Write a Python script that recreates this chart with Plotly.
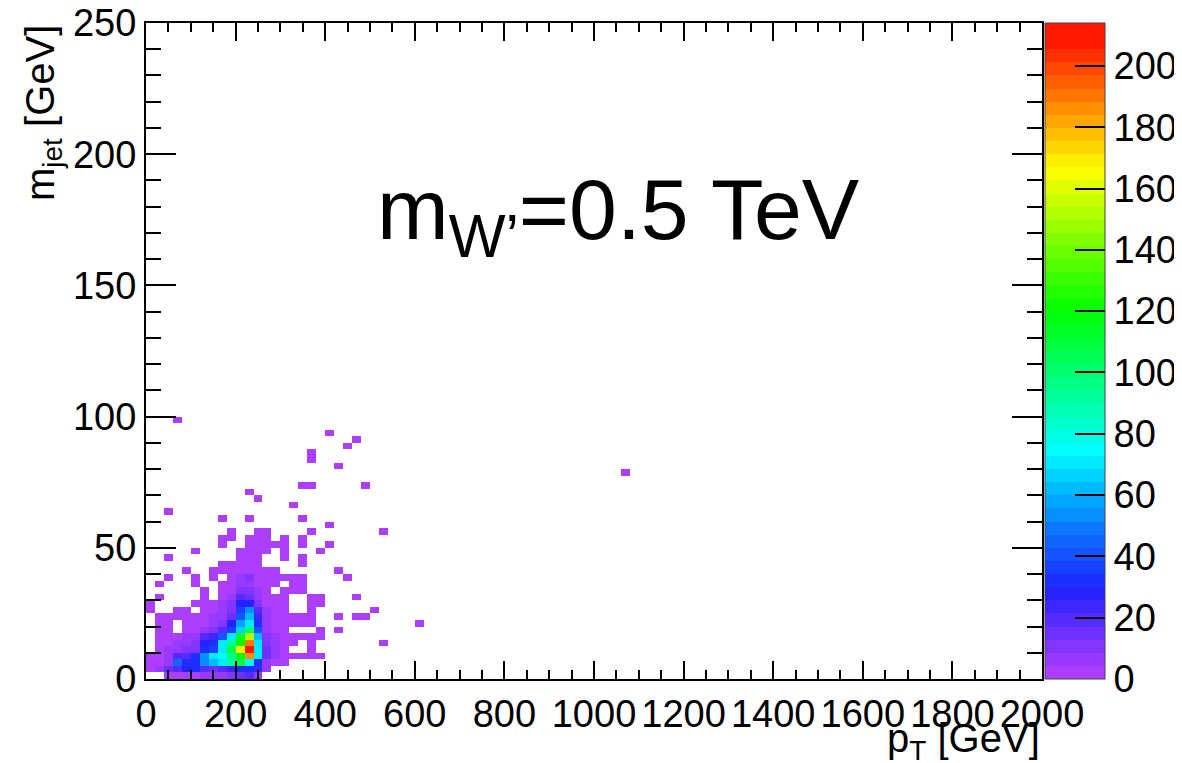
import colorsys
import plotly.graph_objects as go

# ---------------- data ----------------
# 2D histogram: 100 bins in pT (0-2000 GeV, 20 GeV wide), 100 bins in m_jet (0-250 GeV, 2.5 GeV wide)
PT_BINS, PT_MAX = 100, 2000.0
MJ_BINS, MJ_MAX = 100, 250.0
Z_MAX = 214.0

# dense core: rows are m_jet bins 0..22, columns are pT bins 0..31
core_counts = [
    [0, 0, 3, 3, 4, 4, 5, 6, 8, 10, 16, 18, 5, 0, 0, 0, 0, 0, 0, 0, 0, 0, 0, 0, 0, 0, 0, 0, 0, 0, 0, 0],
    [3, 8, 14, 20, 28, 30, 18, 16, 20, 25, 30, 30, 22, 5, 0, 0, 0, 0, 0, 0, 0, 0, 0, 0, 0, 0, 0, 0, 0, 0, 0, 0],
    [2, 4, 6, 45, 30, 32, 55, 62, 72, 90, 110, 75, 30, 6, 3, 2, 0, 0, 0, 0, 0, 0, 0, 0, 0, 0, 0, 0, 0, 0, 0, 0],
    [3, 4, 6, 18, 20, 30, 55, 70, 75, 95, 118, 188, 70, 14, 5, 3, 2, 2, 2, 1, 0, 0, 0, 0, 0, 0, 0, 0, 0, 0, 0, 0],
    [0, 3, 5, 8, 10, 12, 32, 35, 72, 110, 168, 212, 72, 14, 6, 3, 0, 0, 2, 0, 0, 0, 0, 0, 0, 0, 0, 0, 0, 0, 0, 0],
    [0, 3, 4, 6, 8, 10, 28, 32, 70, 92, 122, 192, 70, 12, 6, 3, 2, 0, 2, 0, 0, 0, 0, 0, 0, 0, 1, 0, 0, 0, 0, 0],
    [0, 2, 3, 4, 5, 8, 18, 25, 42, 72, 112, 150, 62, 10, 5, 3, 2, 2, 2, 2, 0, 0, 0, 0, 0, 0, 0, 0, 0, 0, 0, 0],
    [0, 2, 2, 0, 3, 4, 6, 12, 20, 35, 68, 100, 40, 8, 4, 2, 0, 0, 0, 1, 0, 1, 0, 0, 0, 0, 0, 0, 0, 0, 0, 0],
    [0, 2, 2, 0, 3, 3, 4, 5, 10, 26, 58, 72, 32, 6, 3, 2, 2, 2, 1, 0, 0, 0, 0, 0, 0, 0, 0, 0, 0, 0, 1, 0],
    [0, 2, 2, 2, 3, 3, 4, 5, 8, 14, 40, 62, 22, 6, 3, 2, 2, 2, 1, 0, 0, 1, 0, 1, 1, 0, 0, 0, 0, 0, 0, 0],
    [2, 0, 0, 2, 2, 0, 3, 4, 6, 12, 35, 52, 18, 5, 3, 2, 0, 0, 1, 0, 0, 0, 0, 0, 0, 1, 0, 0, 0, 0, 0, 0],
    [2, 0, 0, 0, 0, 2, 3, 4, 5, 10, 28, 28, 12, 4, 2, 2, 0, 0, 1, 1, 0, 0, 0, 0, 0, 0, 0, 0, 0, 0, 0, 0],
    [0, 2, 0, 0, 0, 0, 2, 0, 3, 5, 18, 16, 8, 3, 2, 2, 0, 0, 1, 1, 0, 0, 0, 1, 0, 0, 0, 0, 0, 0, 0, 0],
    [0, 0, 0, 0, 0, 0, 2, 0, 3, 4, 12, 10, 5, 2, 0, 2, 1, 1, 0, 0, 0, 0, 0, 0, 0, 0, 0, 0, 0, 0, 0, 0],
    [0, 2, 0, 0, 0, 2, 0, 0, 2, 3, 5, 5, 4, 2, 2, 0, 1, 1, 0, 0, 0, 0, 0, 0, 0, 0, 0, 0, 0, 0, 0, 0],
    [0, 0, 1, 0, 0, 2, 0, 2, 0, 3, 8, 10, 4, 3, 2, 2, 1, 1, 0, 0, 0, 0, 1, 0, 0, 0, 0, 0, 0, 0, 0, 0],
    [0, 0, 0, 0, 1, 0, 0, 2, 2, 2, 3, 3, 2, 2, 1, 0, 0, 0, 0, 0, 0, 1, 0, 0, 0, 0, 0, 0, 0, 0, 0, 0],
    [0, 0, 0, 0, 0, 0, 0, 0, 2, 2, 2, 2, 2, 0, 0, 0, 0, 1, 0, 0, 0, 0, 0, 0, 0, 0, 0, 0, 0, 0, 0, 0],
    [0, 0, 1, 0, 0, 0, 0, 0, 0, 0, 2, 2, 2, 0, 0, 1, 0, 1, 0, 0, 0, 0, 0, 0, 0, 0, 0, 0, 0, 0, 0, 0],
    [0, 0, 0, 0, 0, 1, 0, 0, 0, 0, 2, 2, 1, 1, 0, 1, 0, 0, 0, 1, 0, 0, 0, 0, 0, 0, 0, 0, 0, 0, 0, 0],
    [0, 0, 0, 0, 0, 0, 0, 0, 1, 0, 0, 2, 1, 1, 1, 1, 0, 1, 0, 0, 1, 0, 0, 0, 0, 0, 0, 0, 0, 0, 0, 0],
    [0, 0, 0, 0, 0, 0, 0, 0, 1, 1, 0, 1, 1, 1, 0, 1, 0, 1, 0, 0, 0, 0, 0, 0, 0, 0, 0, 0, 0, 0, 0, 0],
    [0, 0, 0, 0, 0, 0, 0, 0, 0, 1, 0, 0, 1, 1, 0, 0, 0, 0, 1, 0, 0, 0, 0, 0, 0, 0, 1, 0, 0, 0, 0, 0],
]

# sparse single entries above the core (pT bin index, m_jet bin index, count)
sparse_pt_bin   = [20, 8, 11, 17, 2, 16, 12, 11, 17, 18, 24, 53, 21, 18, 18, 22, 23, 20, 3]
sparse_mjet_bin = [23, 24, 24, 24, 25, 26, 27, 28, 29, 29, 29, 31, 32, 33, 34, 35, 36, 37, 39]
sparse_count    = [1, 1, 1, 1, 1, 1, 1, 1, 1, 1, 1, 1, 1, 1, 1, 1, 1, 1, 1]

x_ticks = list(range(0, 2001, 200))
y_ticks = list(range(0, 251, 50))
z_ticks = list(range(0, 201, 20))

# ---------------- build histogram ----------------
z = [[None] * PT_BINS for _ in range(MJ_BINS)]
for j, row in enumerate(core_counts):
    for i, v in enumerate(row):
        if v:
            z[j][i] = v
for i, j, v in zip(sparse_pt_bin, sparse_mjet_bin, sparse_count):
    z[j][i] = v

pt_w = PT_MAX / PT_BINS
mj_w = MJ_MAX / MJ_BINS
x_centers = [(i + 0.5) * pt_w for i in range(PT_BINS)]
y_centers = [(j + 0.5) * mj_w for j in range(MJ_BINS)]

# ROOT "pretty" palette: 50 colours, hue 280 -> ~0
def root_color(k):
    hue = max(5.6, 280.0 - (k + 1) * 5.6)
    light = 0.5 + 0.12 * max(0.0, (hue - 200.0) / 74.0)
    r, g, b = colorsys.hls_to_rgb(hue / 360.0, light, 1.0)
    return f"rgb({round(r*255)},{round(g*255)},{round(b*255)})"

NCOL = 50
colorscale = []
for k in range(NCOL):
    c = root_color(k)
    colorscale.append([k / NCOL, c])
    colorscale.append([(k + 1) / NCOL, c])

# The page body has an 8 px margin: all pixel positions below are page positions minus 8
OFF = 8
W, H = 1182 - OFF, 763 - OFF
L_PX, R_PX, T_PX, B_PX = 146 - OFF, 1042 - OFF, 23 - OFF, 679 - OFF
pw = R_PX - L_PX
ph = B_PX - T_PX
TICK_FONT = 38

fig = go.Figure(go.Heatmap(
    x=x_centers, y=y_centers, z=z,
    zmin=0, zmax=Z_MAX, colorscale=colorscale,
    hoverongaps=False,
    colorbar=dict(
        x=(1045 - OFF - L_PX) / pw, xanchor="left", y=0.5, yanchor="middle",
        len=1.0, lenmode="fraction", thickness=60, thicknessmode="pixels",
        outlinewidth=1, outlinecolor="#444",
        tickmode="array", tickvals=z_ticks, ticks="inside", ticklen=30,
        tickcolor="black", tickwidth=1.5,
        tickfont=dict(size=TICK_FONT, color="black"),
        ticklabeloverflow="allow",
        xpad=0, ypad=0,
    ),
))

axis_common = dict(
    showgrid=False, zeroline=False, showline=True, linecolor="black", linewidth=2,
    mirror="ticks", ticks="inside", tickcolor="black", tickwidth=1.5,
    tickfont=dict(size=TICK_FONT, color="black"), ticklabeloverflow="allow",
)
fig.update_xaxes(range=[0, PT_MAX], tickmode="array", tickvals=x_ticks, ticklen=18, tickangle=0,
                 minor=dict(dtick=50, ticklen=9, ticks="inside", tickcolor="black", tickwidth=1.5),
                 **axis_common)
fig.update_yaxes(range=[0, MJ_MAX], tickmode="array", tickvals=y_ticks, ticklen=30,
                 minor=dict(dtick=10, ticklen=15, ticks="inside", tickcolor="black", tickwidth=1.5),
                 **axis_common)

fig.update_layout(
    width=W, height=H,
    margin=dict(l=L_PX, r=W - R_PX, t=T_PX, b=H - B_PX, autoexpand=False),
    paper_bgcolor="white", plot_bgcolor="white",
    font=dict(family="Liberation Sans, Arial, Helvetica, sans-serif", size=40, color="black"),
    showlegend=False,
)

fig.add_annotation(xref="paper", yref="paper", x=(375 - OFF - L_PX) / pw, y=(B_PX - (215 - OFF)) / ph,
                   xanchor="left", yanchor="middle", showarrow=False,
                   text="m<sub>W’</sub>=0.5 TeV", font=dict(size=86, color="black"))
fig.add_annotation(xref="paper", yref="paper", x=1.0, y=(B_PX - (741 - OFF)) / ph,
                   xanchor="right", yanchor="middle", showarrow=False,
                   text="p<sub>T</sub> [GeV]", font=dict(size=40, color="black"))
fig.add_annotation(xref="paper", yref="paper", x=(43 - OFF - L_PX) / pw, y=1.0,
                   xanchor="center", yanchor="top", showarrow=False, textangle=-90,
                   text="m<sub>jet</sub> [GeV]", font=dict(size=40, color="black"))

fig.write_html("out.html")
